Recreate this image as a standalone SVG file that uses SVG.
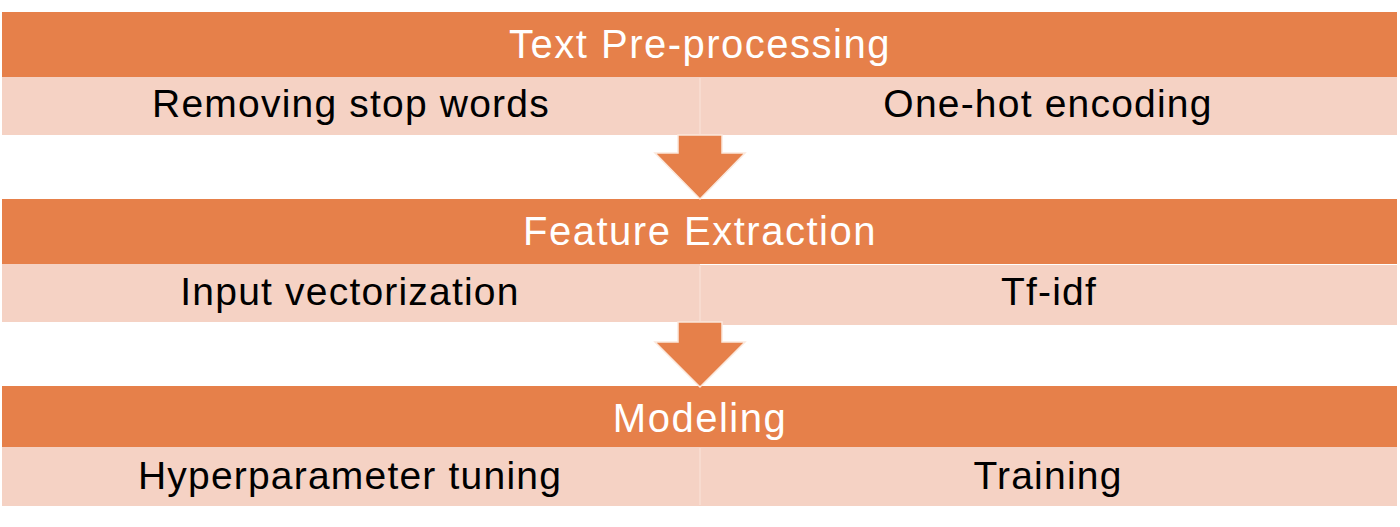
<svg xmlns="http://www.w3.org/2000/svg" width="1400" height="527" viewBox="0 0 1400 527">
<style>
.hd{fill:#E6804A}
.cell{fill:#F5D2C4}
.div{stroke:#FAE4DA;stroke-width:1}
.ht{font-family:"Liberation Sans",Arial,sans-serif;font-size:40px;fill:#FFFFFF;text-anchor:middle;letter-spacing:1.5px}
.ct{font-family:"Liberation Sans",Arial,sans-serif;font-size:39px;fill:#000000;text-anchor:middle;letter-spacing:1.2px}
.arrow{fill:#E6804A;stroke:#FBE8DC;stroke-width:1.5}
</style>
<rect width="1400" height="527" fill="#FFFFFF"/>
<g id="block-preprocessing">
<rect class="hd" x="2" y="12" width="1395" height="65"/>
<rect class="cell" x="2" y="77" width="698" height="58"/>
<rect class="cell" x="700" y="77" width="697" height="58"/>
<line class="div" x1="700" y1="78" x2="700" y2="134"/>
<text class="ht" x="700" y="58">Text Pre-processing</text>
<text class="ct" x="351" y="117">Removing stop words</text>
<text class="ct" x="1048" y="117">One-hot encoding</text>
</g>
<g id="block-feature">
<rect class="hd" x="2" y="199" width="1395" height="65"/>
<rect class="cell" x="2" y="264" width="698" height="58"/>
<rect class="cell" x="700" y="265" width="697" height="60"/>
<line class="div" x1="700" y1="266" x2="700" y2="321"/>
<text class="ht" x="700" y="245">Feature Extraction</text>
<text class="ct" x="350" y="305">Input vectorization</text>
<text class="ct" x="1049" y="305">Tf-idf</text>
</g>
<g id="block-modeling">
<rect class="hd" x="2" y="386" width="1395" height="61"/>
<rect class="cell" x="2" y="447" width="698" height="59"/>
<rect class="cell" x="700" y="447" width="697" height="59"/>
<line class="div" x1="700" y1="448" x2="700" y2="505"/>
<text class="ht" x="700" y="432">Modeling</text>
<text class="ct" x="350" y="489">Hyperparameter tuning</text>
<text class="ct" x="1048" y="489">Training</text>
</g>
<g id="connectors">
<polygon class="arrow" points="678,135 722,135 722,153 745,153 700,199 655,153 678,153"/>
<polygon class="arrow" points="678,322 722,322 722,342 745,342 700,387 655,342 678,342"/>
</g>
</svg>
